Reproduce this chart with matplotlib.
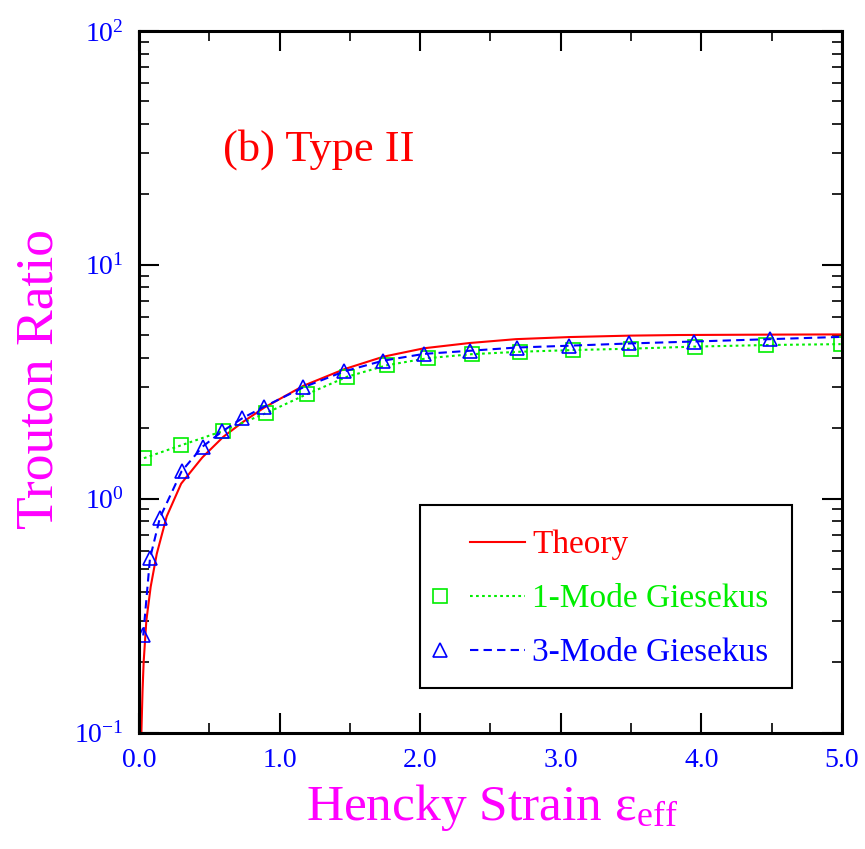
import math
import matplotlib
matplotlib.use("Agg")
import matplotlib.pyplot as plt
from matplotlib.legend_handler import HandlerBase
from matplotlib.lines import Line2D
from matplotlib.ticker import LogLocator, FixedLocator, NullFormatter, FuncFormatter

plt.rcParams['font.family'] = ['Liberation Serif', 'DejaVu Serif']
plt.rcParams['mathtext.fontset'] = 'custom'
plt.rcParams['mathtext.rm'] = 'Liberation Serif'
plt.rcParams['mathtext.it'] = 'Liberation Serif:italic'
plt.rcParams['mathtext.bf'] = 'Liberation Serif:bold'

# theory curve
theory_x = [0.017, 0.025, 0.033, 0.052, 0.083, 0.126, 0.197, 0.30, 0.45, 0.60,
            0.74, 0.89, 1.17, 1.46, 1.74, 2.03, 2.35, 2.68, 3.06, 3.49, 3.84,
            4.5, 5.0]
theory_y = [0.10, 0.15, 0.20, 0.30, 0.42, 0.58, 0.84, 1.16, 1.50, 1.84,
            2.13, 2.45, 3.04, 3.58, 4.05, 4.40, 4.63, 4.81, 4.91, 4.98, 5.01,
            5.03, 5.04]

# 1-mode Giesekus
g1_x = [0.035, 0.298, 0.599, 0.902, 1.195, 1.479, 1.763, 2.055, 2.370, 2.711,
        3.085, 3.499, 3.954, 4.463, 4.99]
g1_y = [1.49, 1.69, 1.95, 2.32, 2.80, 3.32, 3.72, 3.99, 4.15, 4.25,
        4.32, 4.38, 4.47, 4.54, 4.58]

# 3-mode Giesekus (last point is line end only)
g3_x = [0.03, 0.078, 0.149, 0.303, 0.452, 0.592, 0.736, 0.888, 1.167, 1.458,
        1.735, 2.026, 2.351, 2.687, 3.061, 3.487, 3.949, 4.486, 5.0]
g3_y = [0.26, 0.555, 0.83, 1.31, 1.67, 1.94, 2.21, 2.47, 2.99, 3.50,
        3.89, 4.16, 4.29, 4.43, 4.51, 4.61, 4.70, 4.81, 4.92]

xticks = [0, 1, 2, 3, 4, 5]
xtick_labels = ['0.0', '1.0', '2.0', '3.0', '4.0', '5.0']


class SymbolThenLine(HandlerBase):
    # xmgrace style legend: symbol on the left, line sample to the right
    def create_artists(self, legend, orig_handle, xdescent, ydescent,
                       width, height, fontsize, trans):
        y = height / 2 - ydescent
        x0 = -xdescent
        seg = Line2D([x0 + 0.35 * width, x0 + width], [y, y])
        seg.update_from(orig_handle)
        seg.set_marker('None')
        seg.set_transform(trans)
        mk = Line2D([x0], [y])
        mk.update_from(orig_handle)
        mk.set_linestyle('None')
        mk.set_markevery(None)
        mk.set_transform(trans)
        return [seg, mk]


fig = plt.figure(figsize=(8.65, 8.49), dpi=100)
ax = fig.add_axes([0.1607, 0.1372, 0.8127, 0.8263])

ax.plot(theory_x, theory_y, color='#ff0000', lw=1.5, label='Theory')
ax.plot(g1_x, g1_y, color='#00ee00', lw=1.5, dashes=(1.3, 1.6),
        marker='s', ms=10.5, mfc='none', mec='#00ee00', mew=1.2,
        label='1-Mode Giesekus')
ax.plot(g3_x, g3_y, color='#0000ff', lw=1.5, dashes=(4, 2.5),
        marker='^', ms=10.5, mfc='none', mec='#0000ff', mew=1.2,
        markevery=list(range(len(g3_x) - 1)), label='3-Mode Giesekus')

ax.set_yscale('log')
ax.set_ylim(0.1, 100)
ax.set_xlim(0, 5)

ax.xaxis.set_major_locator(FixedLocator(xticks))
ax.set_xticklabels(xtick_labels)
ax.xaxis.set_minor_locator(FixedLocator([0.5, 1.5, 2.5, 3.5, 4.5]))
ax.yaxis.set_major_locator(LogLocator(base=10, numticks=10))
ax.yaxis.set_minor_locator(LogLocator(base=10, subs=range(2, 10), numticks=20))
ax.yaxis.set_minor_formatter(NullFormatter())
ax.yaxis.set_major_formatter(FuncFormatter(lambda v, p: r'$10^{%d}$' % round(math.log10(v))))

ax.tick_params(which='both', direction='in', top=True, right=True,
               labelcolor='#0000ff', labelsize=20, pad=11)
ax.tick_params(which='major', length=14.5, width=1.5)
ax.tick_params(which='minor', length=7.2, width=1.2)
for sp in ax.spines.values():
    sp.set_linewidth(2.2)

ax.text(0.119, 0.815, '(b) Type II', transform=ax.transAxes, color='#ff0000',
        fontsize=32, va='baseline', ha='left')

fig.text(40 / 865, 1 - 379 / 849, 'Trouton Ratio', rotation=90, color='#ff00ff',
         fontsize=38.5, ha='center', va='center')
fig.text(492 / 865, 1 - 820 / 849, r'Hencky Strain $\mathrm{\varepsilon}_{\mathrm{eff}}$',
         color='#ff00ff', fontsize=37, ha='center', va='baseline')

leg = ax.legend(handler_map={Line2D: SymbolThenLine()},
                loc='upper left', bbox_to_anchor=(0.3997, 0.3243, 0.529, 0.0),
                mode='expand', fontsize=24, frameon=True, fancybox=False,
                edgecolor='black', framealpha=1, borderpad=0.6,
                handlelength=2.55, handletextpad=0.22, labelspacing=0.56,
                handleheight=1.2, borderaxespad=0)
leg.get_frame().set_linewidth(1.5)
for t, c in zip(leg.get_texts(), ['#ff0000', '#00ee00', '#0000ff']):
    t.set_color(c)

fig.savefig('out.png', dpi=100)
